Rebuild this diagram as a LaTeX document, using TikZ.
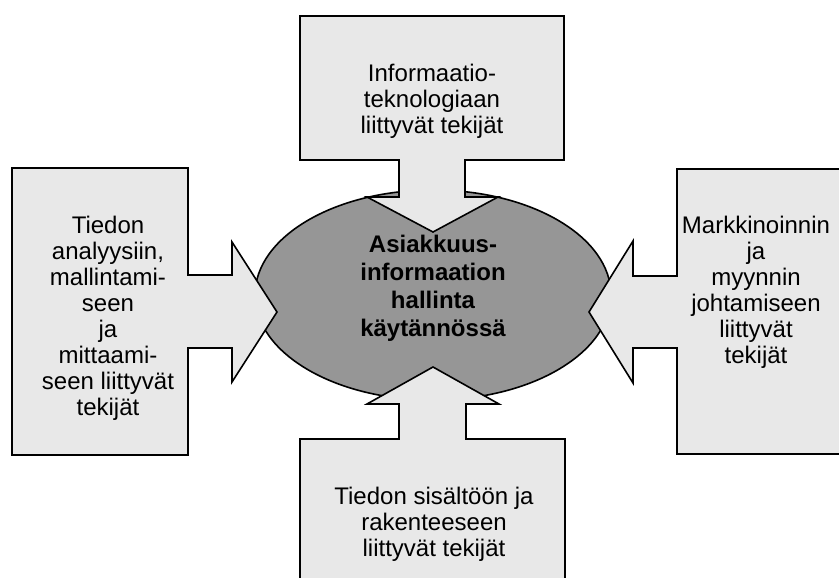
\documentclass[tikz,border=0pt]{standalone}
\usepackage{fontspec}
\setmainfont{Liberation Sans}
\usetikzlibrary{shapes.geometric}
\definecolor{boxgray}{RGB}{232,232,232}
\definecolor{hubgray}{RGB}{150,150,150}
\begin{document}
\begin{tikzpicture}[x=0.75pt,y=-0.75pt,
  block/.style={draw=black, line width=1.2pt, fill=boxgray, line join=miter},
  hub/.style={draw=black, line width=1.2pt, fill=hubgray, ellipse, inner sep=0pt,
    minimum width=267pt, minimum height=157.5pt},
  label/.style={align=center, inner sep=0pt, font=\fontsize{18}{19.5}\selectfont},
  hublabel/.style={align=center, inner sep=0pt, font=\bfseries\fontsize{18}{21}\selectfont}]
\useasboundingbox (0,0) rectangle (839,578);
\clip (0,0) rectangle (839,578);

% central ellipse
\node[hub] (hub) at (433,295) {};

% top block with arrow pointing down
\coordinate (ttip) at (433,232);
\draw[block] (300,16) -- (564,16) -- (564,160) -- (465,160) -- (465,197)
  -- (498,197) -- (ttip) -- (367,197) -- (399,197) -- (399,160) -- (300,160) -- cycle;

% bottom block with arrow pointing up
\coordinate (btip) at (433,367);
\draw[block] (300,600) -- (300,439) -- (399,439) -- (399,404) -- (367,404)
  -- (btip) -- (499,404) -- (466,404) -- (466,439) -- (565,439) -- (565,600) -- cycle;

% left block with arrow pointing right
\coordinate (ltip) at (277,312);
\draw[block] (12,168) -- (188,168) -- (188,275) -- (232,275) -- (232,242)
  -- (ltip) -- (232,382) -- (232,348) -- (188,348) -- (188,455) -- (12,455) -- cycle;

% right block with arrow pointing left
\coordinate (rtip) at (589,312);
\draw[block] (860,169) -- (677,169) -- (677,276) -- (633,276) -- (633,241)
  -- (rtip) -- (633,383) -- (633,348) -- (677,348) -- (677,454) -- (860,454) -- cycle;

% labels
\node[hublabel] (hubtext) at (433,288)
  {Asiakkuus-\\informaation\\hallinta\\käytännössä};
\node[label] (toptext) at (432,101)
  {Informaatio-\\teknologiaan\\liittyvät tekijät};
\node[label] (lefttext) at (108,318)
  {Tiedon\\analyysiin,\\mallintami-\\seen\\ja\\mittaami-\\seen liittyvät\\tekijät};
\node[label] (righttext) at (756,292)
  {Markkinoinnin\\ja\\myynnin\\johtamiseen\\liittyvät\\tekijät};
\node[label] (bottomtext) at (434,524)
  {Tiedon sisältöön ja\\rakenteeseen\\liittyvät tekijät};
\end{tikzpicture}
\end{document}
